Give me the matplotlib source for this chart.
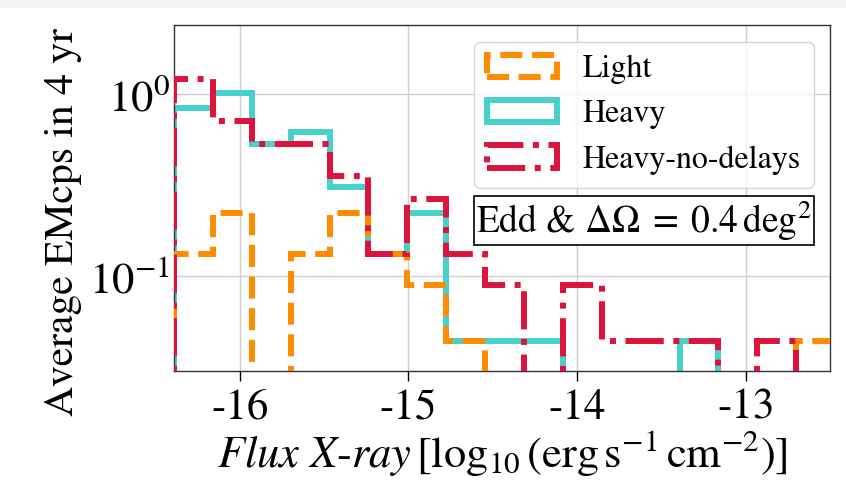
import numpy as np
import matplotlib
matplotlib.use("Agg")
import matplotlib.pyplot as plt
from matplotlib.patches import Rectangle

plt.rcParams["font.family"] = "serif"
plt.rcParams["font.serif"] = ["STIXGeneral", "Liberation Serif", "DejaVu Serif"]
plt.rcParams["mathtext.fontset"] = "stix"
plt.rcParams["axes.unicode_minus"] = False

# Histogram bin edges in log10 flux
bin_edges = np.linspace(-16.39, -12.47, 18)

# Average number of EM counterparts per bin in 4 yr
light = [0.133, 0.222, 0.0, 0.133, 0.222, 0.133, 0.089, 0.044, 0.0,
         0.0, 0.0, 0.0, 0.0, 0.0, 0.0, 0.0, 0.044]
heavy = [0.844, 1.022, 0.533, 0.622, 0.311, 0.133, 0.222, 0.044, 0.044,
         0.044, 0.0, 0.0, 0.0, 0.044, 0.0, 0.0, 0.0]
heavy_no_delays = [1.22, 0.711, 0.533, 0.533, 0.356, 0.133, 0.267, 0.133, 0.089,
                   0.0, 0.089, 0.044, 0.044, 0.044, 0.0, 0.044, 0.0]

series_labels = ["Light", "Heavy", "Heavy-no-delays"]
xticks = [-16, -15, -14, -13]

fig = plt.figure(figsize=(8.46, 4.82), dpi=100)
ax = fig.add_axes([0.2057, 0.2303, 0.9811 - 0.2057, 0.948 - 0.2303])

centers = 0.5 * (bin_edges[:-1] + bin_edges[1:])
lw = 4.3
_, _, p_heavy = ax.hist(centers, bins=bin_edges, weights=heavy, histtype="step",
                        color="#48d1cc", lw=lw, ls="-", log=True, zorder=2)
_, _, p_light = ax.hist(centers, bins=bin_edges, weights=light, histtype="step",
                        color="#ff8c00", lw=lw, ls="--", log=True, zorder=3)
_, _, p_hnd = ax.hist(centers, bins=bin_edges, weights=heavy_no_delays, histtype="step",
                      color="#dc143c", lw=lw, ls="-.", log=True, zorder=4)

ax.set_xlim(-16.39, -12.50)
ax.set_ylim(0.030, 2.41)
ax.set_xticks(xticks)
ax.set_xticklabels([str(t) for t in xticks])
ax.minorticks_off()
ax.grid(True, color="#d0d0d0", lw=1.0, zorder=0)
ax.set_axisbelow(True)
ax.tick_params(axis="x", direction="out", length=7, width=1, labelsize=31, pad=6)
ax.tick_params(axis="y", direction="in", length=0, labelsize=32, pad=3)
for s in ax.spines.values():
    s.set_color("#333333")
    s.set_linewidth(1.0)

ax.set_xlabel(r"$Flux\ X$-$ray\,[\log_{10}(\mathrm{erg\,s^{-1}\,cm^{-2}})]$", fontsize=32, labelpad=0)
ax.set_ylabel("Average EMcps in 4 yr", fontsize=30)
ax.yaxis.set_label_coords(-0.14, 0.43)

handles = [p_light[0], p_heavy[0], p_hnd[0]]
leg = ax.legend(handles, series_labels, loc="upper right", fontsize=23,
                handlelength=2.2, bbox_to_anchor=(0.985, 0.97), borderaxespad=0.2)

ax.text(0.972, 0.37, r"Edd & $\Delta\Omega\;=\;0.4\,\mathrm{deg}^2$", transform=ax.transAxes,
        ha="right", va="bottom", fontsize=27, zorder=10,
        bbox=dict(boxstyle="square,pad=0.06", fc="white", ec="black", lw=1.2))

fig.patches.append(Rectangle((0, 1 - 8 / 482), 1, 8 / 482, transform=fig.transFigure,
                             fc="#f2f2f2", ec="none", zorder=-1))

fig.savefig("out.png", dpi=100)
